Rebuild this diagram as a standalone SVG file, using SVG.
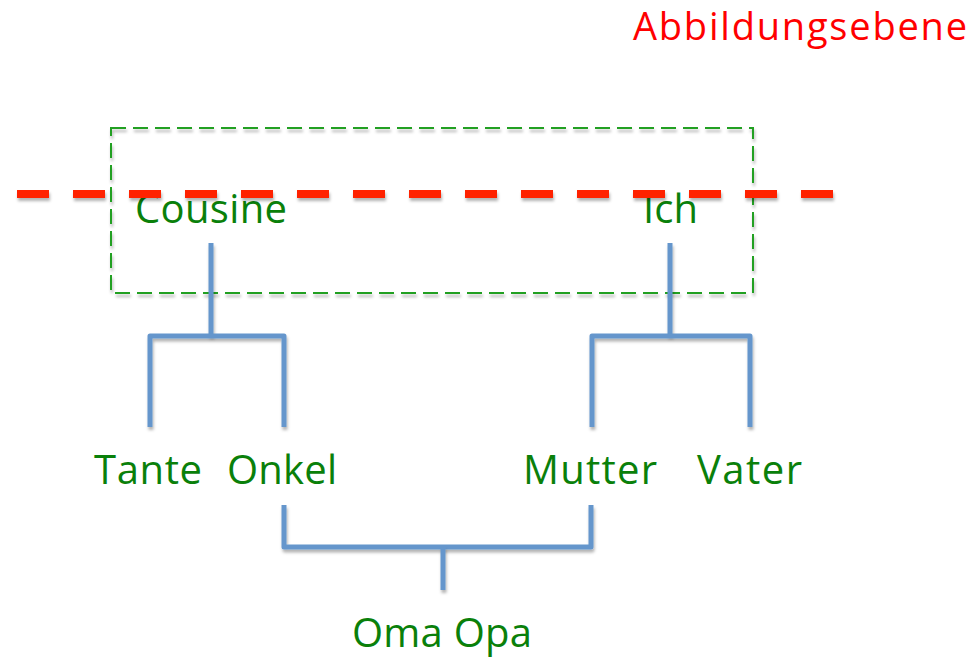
<svg xmlns="http://www.w3.org/2000/svg" width="977" height="658" viewBox="0 0 977 658">
  <defs>
    <filter id="sh" filterUnits="userSpaceOnUse" x="0" y="0" width="977" height="658">
      <feDropShadow dx="1" dy="3" stdDeviation="1.5" flood-color="#000" flood-opacity="0.3"/>
    </filter>
    <style>
      .lbl { font-family: "Open Sans", "Noto Sans", "Liberation Sans", sans-serif; font-size: 40px; fill: #0a800a; }
      .title { font-family: "Open Sans", "Noto Sans", "Liberation Sans", sans-serif; font-size: 38px; fill: #ff0000; }
      .conn { fill: none; stroke: #6596cc; stroke-width: 5; stroke-linejoin: round; filter: url(#sh); }
      .frame { fill: none; stroke: #24a024; stroke-width: 2; stroke-dasharray: 15 7; filter: url(#sh); }
      .plane { stroke: #ff2200; stroke-width: 8; stroke-dasharray: 32 24; filter: url(#sh); }
    </style>
  </defs>
  <rect width="977" height="658" fill="#fff"/>

  <g id="title">
    <text class="title" x="633" y="40" textLength="334">Abbildungsebene</text>
  </g>

  <g id="frame">
    <rect class="frame" x="111" y="128" width="642" height="165"/>
  </g>

  <g id="connectors">
    <path class="conn" d="M211,243 V336"/>
    <path class="conn" d="M150,427 V336 H284 V427"/>
    <path class="conn" d="M670,243 V336"/>
    <path class="conn" d="M592,427 V336 H750 V427"/>
    <path class="conn" d="M284,505 V547 H591 V505"/>
    <path class="conn" d="M443,547 V590"/>
  </g>

  <g id="node-cousine"><text class="lbl" x="135" y="223" textLength="152">Cousine</text></g>
  <g id="node-ich"><text class="lbl" x="643" y="223" textLength="55">Ich</text></g>
  <g id="node-tante"><text class="lbl" x="94" y="484" textLength="108">Tante</text></g>
  <g id="node-onkel"><text class="lbl" x="227" y="484" textLength="110">Onkel</text></g>
  <g id="node-mutter"><text class="lbl" x="523" y="484" textLength="134">Mutter</text></g>
  <g id="node-vater"><text class="lbl" x="697" y="484" textLength="105">Vater</text></g>
  <g id="node-omaopa"><text class="lbl" x="352" y="647" textLength="180">Oma Opa</text></g>

  <g id="plane">
    <line class="plane" x1="17" y1="194" x2="833" y2="194"/>
  </g>
</svg>
